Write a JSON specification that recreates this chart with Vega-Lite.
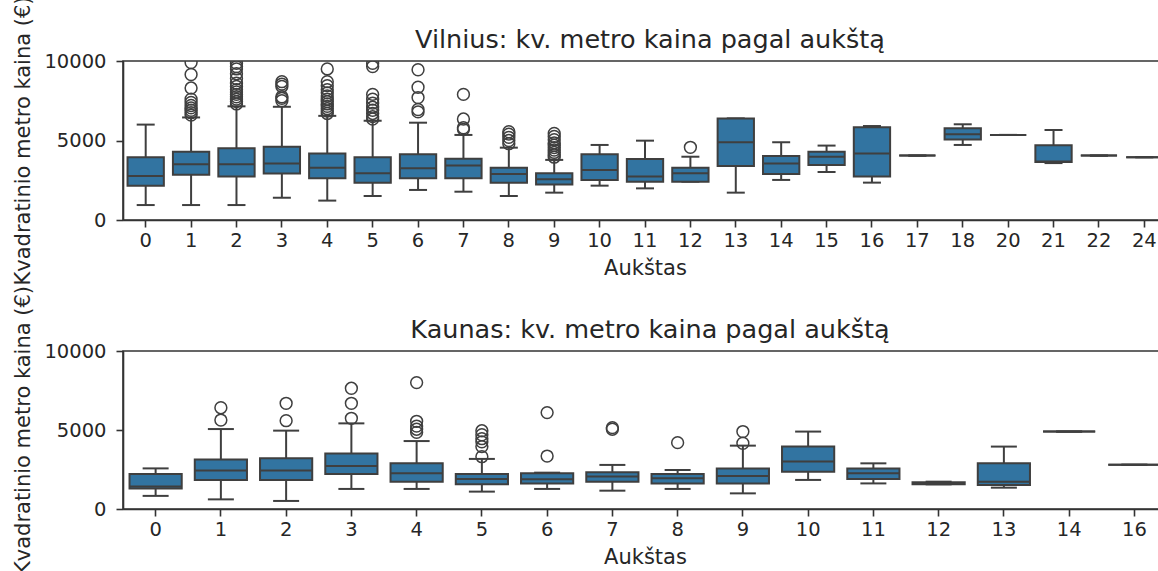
{
  "$schema": "https://vega.github.io/schema/vega-lite/v6.json",
  "background": "white",
  "padding": {"left": 12, "top": -5, "right": -10, "bottom": -5},
  "bounds": "flush",
  "spacing": 131,
  "config": {
    "font": "DejaVu Sans",
    "view": {"stroke": "#333333", "strokeWidth": 1.6},
    "axis": {
      "grid": false,
      "domainColor": "#333333",
      "domainWidth": 1.6,
      "tickColor": "#333333",
      "tickWidth": 1.6,
      "tickSize": 7,
      "labelFont": "DejaVu Sans",
      "labelFontSize": 19.5,
      "labelColor": "#262626",
      "titleFont": "DejaVu Sans",
      "titleFontSize": 21,
      "titleFontWeight": "normal",
      "titleColor": "#262626"
    },
    "axisX": {"labelAngle": 0, "labelPadding": 4, "titlePadding": 8},
    "axisY": {"labelPadding": 10, "titlePadding": 10, "format": "d"},
    "title": {
      "font": "DejaVu Sans",
      "fontSize": 25.5,
      "fontWeight": "normal",
      "color": "#262626",
      "frame": "group",
      "anchor": "middle",
      "baseline": "alphabetic",
      "offset": 0,
      "dx": 5,
      "dy": 62
    }
  },
  "datasets": {
    "vilnius": [
      {"aukstas": 0, "apatinis": 940, "q1": 2160, "mediana": 2770, "q3": 3940, "virsutinis": 6000},
      {"aukstas": 1, "apatinis": 940, "q1": 2850, "mediana": 3500, "q3": 4300, "virsutinis": 6450},
      {"aukstas": 2, "apatinis": 940, "q1": 2730, "mediana": 3500, "q3": 4510, "virsutinis": 7150},
      {"aukstas": 3, "apatinis": 1400, "q1": 2930, "mediana": 3560, "q3": 4610, "virsutinis": 7120},
      {"aukstas": 4, "apatinis": 1220, "q1": 2620, "mediana": 3290, "q3": 4190, "virsutinis": 6550},
      {"aukstas": 5, "apatinis": 1510, "q1": 2350, "mediana": 2940, "q3": 3940, "virsutinis": 6250},
      {"aukstas": 6, "apatinis": 1890, "q1": 2620, "mediana": 3250, "q3": 4130, "virsutinis": 6120},
      {"aukstas": 7, "apatinis": 1780, "q1": 2620, "mediana": 3420, "q3": 3860, "virsutinis": 5350},
      {"aukstas": 8, "apatinis": 1510, "q1": 2350, "mediana": 2890, "q3": 3290, "virsutinis": 4550},
      {"aukstas": 9, "apatinis": 1720, "q1": 2240, "mediana": 2560, "q3": 2940, "virsutinis": 3780},
      {"aukstas": 10, "apatinis": 2160, "q1": 2520, "mediana": 3150, "q3": 4130, "virsutinis": 4720},
      {"aukstas": 11, "apatinis": 1990, "q1": 2410, "mediana": 2730, "q3": 3840, "virsutinis": 4990},
      {"aukstas": 12, "apatinis": 2410, "q1": 2410, "mediana": 2940, "q3": 3290, "virsutinis": 3980},
      {"aukstas": 13, "apatinis": 1720, "q1": 3400, "mediana": 4890, "q3": 6390, "virsutinis": 6390},
      {"aukstas": 14, "apatinis": 2520, "q1": 2890, "mediana": 3560, "q3": 4030, "virsutinis": 4890},
      {"aukstas": 15, "apatinis": 3020, "q1": 3460, "mediana": 3980, "q3": 4300, "virsutinis": 4680},
      {"aukstas": 16, "apatinis": 2350, "q1": 2730, "mediana": 4190, "q3": 5830, "virsutinis": 5910},
      {"aukstas": 17, "apatinis": 4050, "q1": 4050, "mediana": 4050, "q3": 4050, "virsutinis": 4050},
      {"aukstas": 18, "apatinis": 4720, "q1": 5070, "mediana": 5390, "q3": 5770, "virsutinis": 6020},
      {"aukstas": 20, "apatinis": 5350, "q1": 5350, "mediana": 5350, "q3": 5350, "virsutinis": 5350},
      {"aukstas": 21, "apatinis": 3580, "q1": 3640, "mediana": 3680, "q3": 4700, "virsutinis": 5660},
      {"aukstas": 22, "apatinis": 4050, "q1": 4050, "mediana": 4050, "q3": 4050, "virsutinis": 4050},
      {"aukstas": 24, "apatinis": 3950, "q1": 3950, "mediana": 3950, "q3": 3950, "virsutinis": 3950}
    ],
    "vilnius_isskirtys": [
      {"aukstas": 1, "kaina": 6600}, {"aukstas": 1, "kaina": 6750}, {"aukstas": 1, "kaina": 6900},
      {"aukstas": 1, "kaina": 7050}, {"aukstas": 1, "kaina": 7200}, {"aukstas": 1, "kaina": 7400},
      {"aukstas": 1, "kaina": 7600}, {"aukstas": 1, "kaina": 8300}, {"aukstas": 1, "kaina": 9150},
      {"aukstas": 1, "kaina": 9900},
      {"aukstas": 2, "kaina": 7300}, {"aukstas": 2, "kaina": 7450}, {"aukstas": 2, "kaina": 7600},
      {"aukstas": 2, "kaina": 7750}, {"aukstas": 2, "kaina": 7900}, {"aukstas": 2, "kaina": 8050},
      {"aukstas": 2, "kaina": 8200}, {"aukstas": 2, "kaina": 8400}, {"aukstas": 2, "kaina": 8600},
      {"aukstas": 2, "kaina": 8900}, {"aukstas": 2, "kaina": 9200}, {"aukstas": 2, "kaina": 9500},
      {"aukstas": 2, "kaina": 9650}, {"aukstas": 2, "kaina": 9850},
      {"aukstas": 3, "kaina": 7500}, {"aukstas": 3, "kaina": 7650}, {"aukstas": 3, "kaina": 7750},
      {"aukstas": 3, "kaina": 8400}, {"aukstas": 3, "kaina": 8550}, {"aukstas": 3, "kaina": 8700},
      {"aukstas": 4, "kaina": 6700}, {"aukstas": 4, "kaina": 6850}, {"aukstas": 4, "kaina": 7000},
      {"aukstas": 4, "kaina": 7150}, {"aukstas": 4, "kaina": 7300}, {"aukstas": 4, "kaina": 7450},
      {"aukstas": 4, "kaina": 7600}, {"aukstas": 4, "kaina": 7800}, {"aukstas": 4, "kaina": 8000},
      {"aukstas": 4, "kaina": 8200}, {"aukstas": 4, "kaina": 8450}, {"aukstas": 4, "kaina": 8700},
      {"aukstas": 4, "kaina": 9500},
      {"aukstas": 5, "kaina": 6350}, {"aukstas": 5, "kaina": 6500}, {"aukstas": 5, "kaina": 6700},
      {"aukstas": 5, "kaina": 6900}, {"aukstas": 5, "kaina": 7100}, {"aukstas": 5, "kaina": 7350},
      {"aukstas": 5, "kaina": 7600}, {"aukstas": 5, "kaina": 7900}, {"aukstas": 5, "kaina": 9650},
      {"aukstas": 5, "kaina": 9850},
      {"aukstas": 6, "kaina": 6800}, {"aukstas": 6, "kaina": 6950}, {"aukstas": 6, "kaina": 7700},
      {"aukstas": 6, "kaina": 8350}, {"aukstas": 6, "kaina": 9450},
      {"aukstas": 7, "kaina": 5700}, {"aukstas": 7, "kaina": 5800}, {"aukstas": 7, "kaina": 6350},
      {"aukstas": 7, "kaina": 7900},
      {"aukstas": 8, "kaina": 4800}, {"aukstas": 8, "kaina": 5000}, {"aukstas": 8, "kaina": 5200},
      {"aukstas": 8, "kaina": 5400}, {"aukstas": 8, "kaina": 5550},
      {"aukstas": 9, "kaina": 3950}, {"aukstas": 9, "kaina": 4100}, {"aukstas": 9, "kaina": 4250},
      {"aukstas": 9, "kaina": 4400}, {"aukstas": 9, "kaina": 4550}, {"aukstas": 9, "kaina": 4700},
      {"aukstas": 9, "kaina": 4850}, {"aukstas": 9, "kaina": 5050}, {"aukstas": 9, "kaina": 5250},
      {"aukstas": 9, "kaina": 5450},
      {"aukstas": 12, "kaina": 4570}
    ],
    "kaunas": [
      {"aukstas": 0, "apatinis": 830, "q1": 1300, "mediana": 1420, "q3": 2210, "virsutinis": 2570},
      {"aukstas": 1, "apatinis": 610, "q1": 1840, "mediana": 2430, "q3": 3140, "virsutinis": 5060},
      {"aukstas": 2, "apatinis": 510, "q1": 1840, "mediana": 2430, "q3": 3210, "virsutinis": 4960},
      {"aukstas": 3, "apatinis": 1270, "q1": 2220, "mediana": 2720, "q3": 3520, "virsutinis": 5420},
      {"aukstas": 4, "apatinis": 1270, "q1": 1730, "mediana": 2260, "q3": 2890, "virsutinis": 4300},
      {"aukstas": 5, "apatinis": 1100, "q1": 1560, "mediana": 1900, "q3": 2220, "virsutinis": 3170},
      {"aukstas": 6, "apatinis": 1270, "q1": 1620, "mediana": 1880, "q3": 2260, "virsutinis": 2300},
      {"aukstas": 7, "apatinis": 1160, "q1": 1730, "mediana": 2050, "q3": 2320, "virsutinis": 2790},
      {"aukstas": 8, "apatinis": 1270, "q1": 1620, "mediana": 1940, "q3": 2220, "virsutinis": 2470},
      {"aukstas": 9, "apatinis": 990, "q1": 1620, "mediana": 2090, "q3": 2570, "virsutinis": 4010},
      {"aukstas": 10, "apatinis": 1840, "q1": 2360, "mediana": 3000, "q3": 3950, "virsutinis": 4900},
      {"aukstas": 11, "apatinis": 1620, "q1": 1900, "mediana": 2260, "q3": 2570, "virsutinis": 2890},
      {"aukstas": 12, "apatinis": 1560, "q1": 1570, "mediana": 1600, "q3": 1690, "virsutinis": 1730},
      {"aukstas": 13, "apatinis": 1350, "q1": 1520, "mediana": 1730, "q3": 2890, "virsutinis": 3950},
      {"aukstas": 14, "apatinis": 4900, "q1": 4900, "mediana": 4900, "q3": 4900, "virsutinis": 4900},
      {"aukstas": 16, "apatinis": 2800, "q1": 2800, "mediana": 2800, "q3": 2800, "virsutinis": 2800}
    ],
    "kaunas_isskirtys": [
      {"aukstas": 1, "kaina": 5630}, {"aukstas": 1, "kaina": 6410},
      {"aukstas": 2, "kaina": 5590}, {"aukstas": 2, "kaina": 6690},
      {"aukstas": 3, "kaina": 5740}, {"aukstas": 3, "kaina": 6690}, {"aukstas": 3, "kaina": 7640},
      {"aukstas": 4, "kaina": 4850}, {"aukstas": 4, "kaina": 5050}, {"aukstas": 4, "kaina": 5250},
      {"aukstas": 4, "kaina": 5550}, {"aukstas": 4, "kaina": 8000},
      {"aukstas": 5, "kaina": 3310}, {"aukstas": 5, "kaina": 3950}, {"aukstas": 5, "kaina": 4250},
      {"aukstas": 5, "kaina": 4450}, {"aukstas": 5, "kaina": 4700}, {"aukstas": 5, "kaina": 4950},
      {"aukstas": 6, "kaina": 3350}, {"aukstas": 6, "kaina": 6100},
      {"aukstas": 7, "kaina": 5050}, {"aukstas": 7, "kaina": 5150},
      {"aukstas": 8, "kaina": 4200},
      {"aukstas": 9, "kaina": 4160}, {"aukstas": 9, "kaina": 4900}
    ]
  },
  "vconcat": [
    {
      "width": 1044,
      "height": 159,
      "title": {"text": "Vilnius: kv. metro kaina pagal aukštą"},
      "layer": [
        {
          "data": {"name": "vilnius"},
          "mark": {"type": "rule", "color": "#3f3f3f", "strokeWidth": 2},
          "encoding": {
            "x": {"field": "aukstas", "type": "ordinal", "title": "Aukštas", "scale": {"type": "band", "paddingInner": 0, "paddingOuter": 0}},
            "y": {"field": "apatinis", "type": "quantitative", "title": "Kvadratinio metro kaina (€)", "scale": {"domain": [0, 10000], "nice": false}, "axis": {"values": [0, 5000, 10000]}},
            "y2": {"field": "virsutinis"}
          }
        },
        {
          "data": {"name": "vilnius"},
          "mark": {"type": "tick", "color": "#3f3f3f", "thickness": 2, "size": 18, "opacity": 1},
          "encoding": {
            "x": {"field": "aukstas", "type": "ordinal", "title": "Aukštas"},
            "y": {"field": "apatinis", "type": "quantitative", "title": "Kvadratinio metro kaina (€)"}
          }
        },
        {
          "data": {"name": "vilnius"},
          "mark": {"type": "tick", "color": "#3f3f3f", "thickness": 2, "size": 18, "opacity": 1},
          "encoding": {
            "x": {"field": "aukstas", "type": "ordinal", "title": "Aukštas"},
            "y": {"field": "virsutinis", "type": "quantitative", "title": "Kvadratinio metro kaina (€)"}
          }
        },
        {
          "data": {"name": "vilnius"},
          "mark": {"type": "bar", "width": {"band": 0.8}, "fill": "#3274a1", "stroke": "#3f3f3f", "strokeWidth": 2, "opacity": 1},
          "encoding": {
            "x": {"field": "aukstas", "type": "ordinal", "title": "Aukštas"},
            "y": {"field": "q1", "type": "quantitative", "title": "Kvadratinio metro kaina (€)"},
            "y2": {"field": "q3"}
          }
        },
        {
          "data": {"name": "vilnius"},
          "mark": {"type": "tick", "color": "#3f3f3f", "thickness": 2, "size": 36, "opacity": 1},
          "encoding": {
            "x": {"field": "aukstas", "type": "ordinal", "title": "Aukštas"},
            "y": {"field": "mediana", "type": "quantitative", "title": "Kvadratinio metro kaina (€)"}
          }
        },
        {
          "data": {"name": "vilnius_isskirtys"},
          "mark": {"type": "point", "shape": "circle", "filled": false, "stroke": "#3f3f3f", "strokeWidth": 1.5, "size": 140, "opacity": 1, "clip": true},
          "encoding": {
            "x": {"field": "aukstas", "type": "ordinal", "title": "Aukštas"},
            "y": {"field": "kaina", "type": "quantitative", "title": "Kvadratinio metro kaina (€)"}
          }
        }
      ]
    },
    {
      "width": 1044,
      "height": 158,
      "title": {"text": "Kaunas: kv. metro kaina pagal aukštą"},
      "layer": [
        {
          "data": {"name": "kaunas"},
          "mark": {"type": "rule", "color": "#3f3f3f", "strokeWidth": 2},
          "encoding": {
            "x": {"field": "aukstas", "type": "ordinal", "title": "Aukštas", "scale": {"type": "band", "paddingInner": 0, "paddingOuter": 0}},
            "y": {"field": "apatinis", "type": "quantitative", "title": "Kvadratinio metro kaina (€)", "scale": {"domain": [0, 10000], "nice": false}, "axis": {"values": [0, 5000, 10000]}},
            "y2": {"field": "virsutinis"}
          }
        },
        {
          "data": {"name": "kaunas"},
          "mark": {"type": "tick", "color": "#3f3f3f", "thickness": 2, "size": 26, "opacity": 1},
          "encoding": {
            "x": {"field": "aukstas", "type": "ordinal", "title": "Aukštas"},
            "y": {"field": "apatinis", "type": "quantitative", "title": "Kvadratinio metro kaina (€)"}
          }
        },
        {
          "data": {"name": "kaunas"},
          "mark": {"type": "tick", "color": "#3f3f3f", "thickness": 2, "size": 26, "opacity": 1},
          "encoding": {
            "x": {"field": "aukstas", "type": "ordinal", "title": "Aukštas"},
            "y": {"field": "virsutinis", "type": "quantitative", "title": "Kvadratinio metro kaina (€)"}
          }
        },
        {
          "data": {"name": "kaunas"},
          "mark": {"type": "bar", "width": {"band": 0.8}, "fill": "#3274a1", "stroke": "#3f3f3f", "strokeWidth": 2, "opacity": 1},
          "encoding": {
            "x": {"field": "aukstas", "type": "ordinal", "title": "Aukštas"},
            "y": {"field": "q1", "type": "quantitative", "title": "Kvadratinio metro kaina (€)"},
            "y2": {"field": "q3"}
          }
        },
        {
          "data": {"name": "kaunas"},
          "mark": {"type": "tick", "color": "#3f3f3f", "thickness": 2, "size": 52, "opacity": 1},
          "encoding": {
            "x": {"field": "aukstas", "type": "ordinal", "title": "Aukštas"},
            "y": {"field": "mediana", "type": "quantitative", "title": "Kvadratinio metro kaina (€)"}
          }
        },
        {
          "data": {"name": "kaunas_isskirtys"},
          "mark": {"type": "point", "shape": "circle", "filled": false, "stroke": "#3f3f3f", "strokeWidth": 1.5, "size": 140, "opacity": 1, "clip": true},
          "encoding": {
            "x": {"field": "aukstas", "type": "ordinal", "title": "Aukštas"},
            "y": {"field": "kaina", "type": "quantitative", "title": "Kvadratinio metro kaina (€)"}
          }
        }
      ]
    }
  ]
}
